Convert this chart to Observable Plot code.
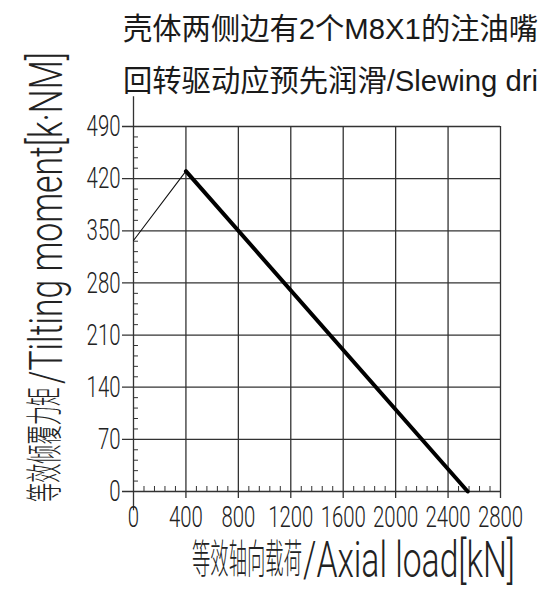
<!DOCTYPE html>
<html><head><meta charset="utf-8">
<script src="https://cdn.jsdelivr.net/npm/d3@7"></script>
<script src="https://cdn.jsdelivr.net/npm/@observablehq/plot@0.6"></script>
<style>
html,body{margin:0;padding:0;background:#fff;overflow:hidden;}
#chart{position:relative;width:545px;height:599px;overflow:hidden;background:#fff;}
#chart svg{position:absolute;left:0;top:0;}
.title{position:absolute;left:123px;white-space:nowrap;font-family:"Liberation Sans","Noto Sans CJK SC",sans-serif;font-size:29.3px;line-height:1;color:#1a1a1a;}
</style></head><body>
<div id="chart"></div>
<script>
// ---- data ----
const titleLines = ["壳体两侧边有2个M8X1的注油嘴", "回转驱动应预先润滑/Slewing dri"];
const xTicks = [0, 400, 800, 1200, 1600, 2000, 2400, 2800];
const yTicks = [0, 70, 140, 210, 280, 350, 420, 490];
const rampLoad = [0, 400];
const rampMoment = [337, 430];
const limitLoad = [400, 2550];
const limitMoment = [430, 0];
const xLabelCn = "等效轴向载荷", xLabelEn = "/Axial load[kN]";
const yLabelCn = "等效倾覆力矩", yLabelEn = "/Tilting moment[k·NM]";

const ramp = rampLoad.map((x, i) => ({x, y: rampMoment[i]}));
const limit = limitLoad.map((x, i) => ({x, y: limitMoment[i]}));
const xMinor = d3.range(80, 2800, 80).filter(v => v % 400 !== 0);
const yMinor = d3.range(14, 490, 14).filter(v => v % 70 !== 0);
const ink = "#333";
const tickFont = "Roboto, 'Liberation Sans', sans-serif";

const svg = Plot.plot({
  width: 545, height: 599,
  marginTop: 126, marginBottom: 108, marginLeft: 133, marginRight: 45,
  x: {domain: [0, 2800]},
  y: {domain: [0, 490]},
  style: {background: "transparent", overflow: "visible", fontFamily: tickFont, fontSize: "30px", color: "#222"},
  marks: [
    Plot.ruleX(xTicks.filter(d => d > 0), {x: d => d, y1: -9.5, y2: 490, stroke: ink, strokeWidth: 1.3}),
    Plot.ruleY(yTicks, {y: d => d, x1: -84, x2: 2800, stroke: ink, strokeWidth: 1.3}),
    Plot.ruleX([0], {x: d => d, y1: -26, y2: 530, stroke: ink, strokeWidth: 1.3}),
    Plot.ruleX(xMinor, {x: d => d, y1: 0, y2: 6.7, stroke: ink, strokeWidth: 1}),
    Plot.ruleY(yMinor, {y: d => d, x1: 0, x2: 38, stroke: ink, strokeWidth: 1}),
    Plot.line(ramp, {x: "x", y: "y", stroke: "#111", strokeWidth: 1.1}),
    Plot.line(limit, {x: "x", y: "y", stroke: "#000", strokeWidth: 4}),
    Plot.axisX(xTicks, {tickSize: 0, tickPadding: 14, label: null, tickFormat: d => String(d), fontSize: 30, fontWeight: 300, fontFamily: tickFont}),
    Plot.axisY(yTicks, {tickSize: 0, tickPadding: 13, label: null, tickFormat: d => String(d), fontSize: 30, fontWeight: 300, fontFamily: tickFont})
  ]
});
document.getElementById("chart").appendChild(svg);

// condense tick labels horizontally (CAD-style narrow digits)
function squeeze(selector, digitWidth) {
  svg.querySelectorAll(selector).forEach(t => {
    const w = t.getBBox().width;
    const n = t.textContent.length;
    const s = (digitWidth * n) / w;
    const tr = t.getAttribute("transform");
    if (tr) t.setAttribute("transform", tr + ` scale(${s},1)`);
    else {
      const x = +t.getAttribute("x") || 0, y = +t.getAttribute("y") || 0;
      t.removeAttribute("x"); t.removeAttribute("y");
      t.setAttribute("transform", `translate(${x},${y}) scale(${s},1)`);
    }
  });
}
squeeze('g[aria-label="x-axis tick label"] text', 11.3);
squeeze('g[aria-label="y-axis tick label"] text', 11.3);

// axis titles, condensed to a measured length
const S = d3.select(svg);
function addText(str, o) {
  const base = `translate(${o.x},${o.y}) rotate(${o.rotate || 0})`;
  const t = S.append("text")
    .attr("transform", base)
    .attr("text-anchor", "start")
    .attr("font-family", o.family)
    .attr("font-size", o.size)
    .attr("font-weight", o.weight || 300)
    .attr("fill", "#222")
    .text(str);
  const w = t.node().getBBox().width;
  t.attr("transform", base + ` scale(${o.length / w},1)`);
}
const cjk = "'Noto Sans CJK SC', sans-serif";
const lat = "Roboto, 'Liberation Sans', sans-serif";
addText(xLabelCn, {x: 192, y: 573, size: 40, length: 110, family: cjk});
addText(xLabelEn, {x: 303, y: 577, size: 50, length: 212, family: lat});
addText(yLabelCn, {x: 58, y: 502, rotate: -90, size: 37, length: 115, family: cjk});
addText(yLabelEn, {x: 62, y: 384, rotate: -90, size: 47, length: 332, family: lat});

// titles
const chart = document.getElementById("chart");
[[titleLines[0], 14], [titleLines[1], 66]].forEach(([txt, top]) => {
  const d = document.createElement("div");
  d.className = "title";
  d.style.top = top + "px";
  d.textContent = txt;
  chart.appendChild(d);
});
</script>
</body></html>
